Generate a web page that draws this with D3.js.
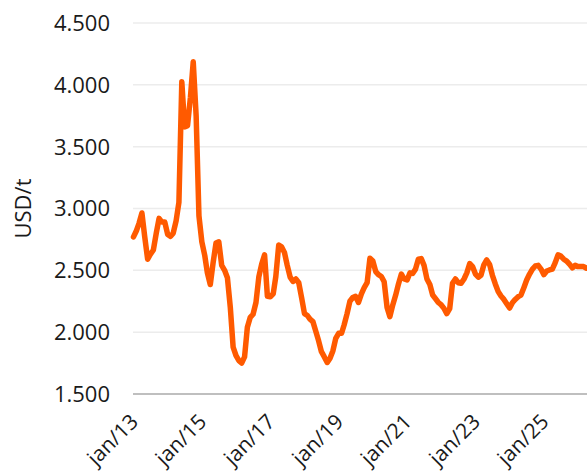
<!DOCTYPE html>
<html>
<head>
<meta charset="utf-8">
<script src="https://cdn.jsdelivr.net/npm/d3@7"></script>
<style>
  body { margin: 0; background: #fff; }
  text { font-family: "Open Sans", sans-serif; fill: #1a1a1a; }
</style>
</head>
<body>
<svg id="chart"></svg>
<script>
// monthly price, USD/t, starting jan/13
const startDate = new Date(2013, 0, 1)
const prices = [
  2770, 2820, 2880, 2964, 2770, 2590, 2630, 2665, 2800, 2920, 2890, 2890,
  2790, 2775, 2800, 2900, 3050, 4024, 3660, 3670, 3900, 4186, 3750, 2940,
  2730, 2620, 2480, 2385, 2560, 2720, 2730, 2540, 2500, 2440, 2200, 1880,
  1810, 1770, 1750, 1800, 2040, 2120, 2145, 2240, 2450, 2550, 2625, 2290,
  2287, 2310, 2450, 2705, 2690, 2645, 2540, 2445, 2410, 2430, 2400, 2280,
  2150, 2135, 2105, 2085, 2010, 1930, 1842, 1800, 1755, 1790, 1850, 1950,
  1991, 1991, 2060, 2150, 2250, 2280, 2290, 2240, 2310, 2360, 2400, 2598,
  2575, 2490, 2465, 2450, 2408, 2200, 2125, 2220, 2300, 2390, 2470, 2430,
  2422, 2480, 2475, 2510, 2590, 2595, 2540, 2430, 2385, 2300, 2270, 2240,
  2220, 2190, 2150, 2190, 2395, 2430, 2400, 2395, 2430, 2480, 2555, 2530,
  2470, 2445, 2460, 2545, 2584, 2548, 2460, 2390, 2328, 2292, 2265, 2230,
  2195, 2240, 2265, 2287, 2300, 2360, 2422, 2470, 2510, 2535, 2540, 2510,
  2465, 2495, 2503, 2510, 2560, 2625, 2615, 2590, 2575, 2550, 2520, 2540,
  2530, 2530, 2530, 2517
]
const yTicks = [1500, 2000, 2500, 3000, 3500, 4000, 4500]
const xTickYears = [2013, 2015, 2017, 2019, 2021, 2023, 2025]
const yTitle = 'USD/t'

const width = 587
const height = 472
const margin = { top: 23, right: 0, bottom: 78, left: 133 }
const fontSize = 22

const data = prices.map((v, i) => ({
  date: new Date(startDate.getFullYear(), startDate.getMonth() + i, 1),
  value: v
}))

const svg = d3.select('#chart')
  .attr('width', width)
  .attr('height', height)

// x: one month is about 2.85px, the chart is cut at the right edge
const xScale = d3.scaleTime()
  .domain([startDate, new Date(2025, 0, 1)])
  .range([margin.left + 0.5, margin.left + 0.5 + 144 * 2.85])

const yScale = d3.scaleLinear()
  .domain([1500, 4500])
  .range([height - margin.bottom, margin.top])

const fmt = d3.formatLocale({ decimal: ',', thousands: '.', grouping: [3], currency: ['', ''] }).format(',d')

// grid lines
svg.append('g')
  .selectAll('line')
  .data(yTicks.slice(1))
  .join('line')
  .attr('x1', margin.left)
  .attr('x2', width)
  .attr('y1', d => yScale(d))
  .attr('y2', d => yScale(d))
  .attr('stroke', '#ececec')
  .attr('stroke-width', 1.5)

// base axis line
svg.append('line')
  .attr('x1', margin.left)
  .attr('x2', width)
  .attr('y1', yScale(1500))
  .attr('y2', yScale(1500))
  .attr('stroke', '#bfbfbf')
  .attr('stroke-width', 2)

// y tick labels
svg.append('g')
  .selectAll('text')
  .data(yTicks)
  .join('text')
  .attr('x', 110)
  .attr('y', d => yScale(d))
  .attr('dy', '0.36em')
  .attr('text-anchor', 'end')
  .attr('font-size', fontSize)
  .text(d => fmt(d))

// y title
svg.append('text')
  .attr('transform', `translate(31, ${(yScale(1500) + yScale(4500)) / 2}) rotate(-90)`)
  .attr('text-anchor', 'middle')
  .attr('font-size', fontSize)
  .text(yTitle)

// x tick labels
svg.append('g')
  .selectAll('text')
  .data(xTickYears)
  .join('text')
  .attr('transform', d => `translate(${xScale(new Date(d, 0, 1)) + 6}, ${yScale(1500) + 29}) rotate(-45)`)
  .attr('text-anchor', 'end')
  .attr('font-size', 21)
  .text(d => 'jan/' + String(d).slice(2))

// price line
const line = d3.line()
  .x(d => xScale(d.date))
  .y(d => yScale(d.value))

svg.append('path')
  .datum(data)
  .attr('d', line)
  .attr('fill', 'none')
  .attr('stroke', '#ff5a00')
  .attr('stroke-width', 5.5)
  .attr('stroke-linejoin', 'round')
  .attr('stroke-linecap', 'round')
</script>
</body>
</html>
